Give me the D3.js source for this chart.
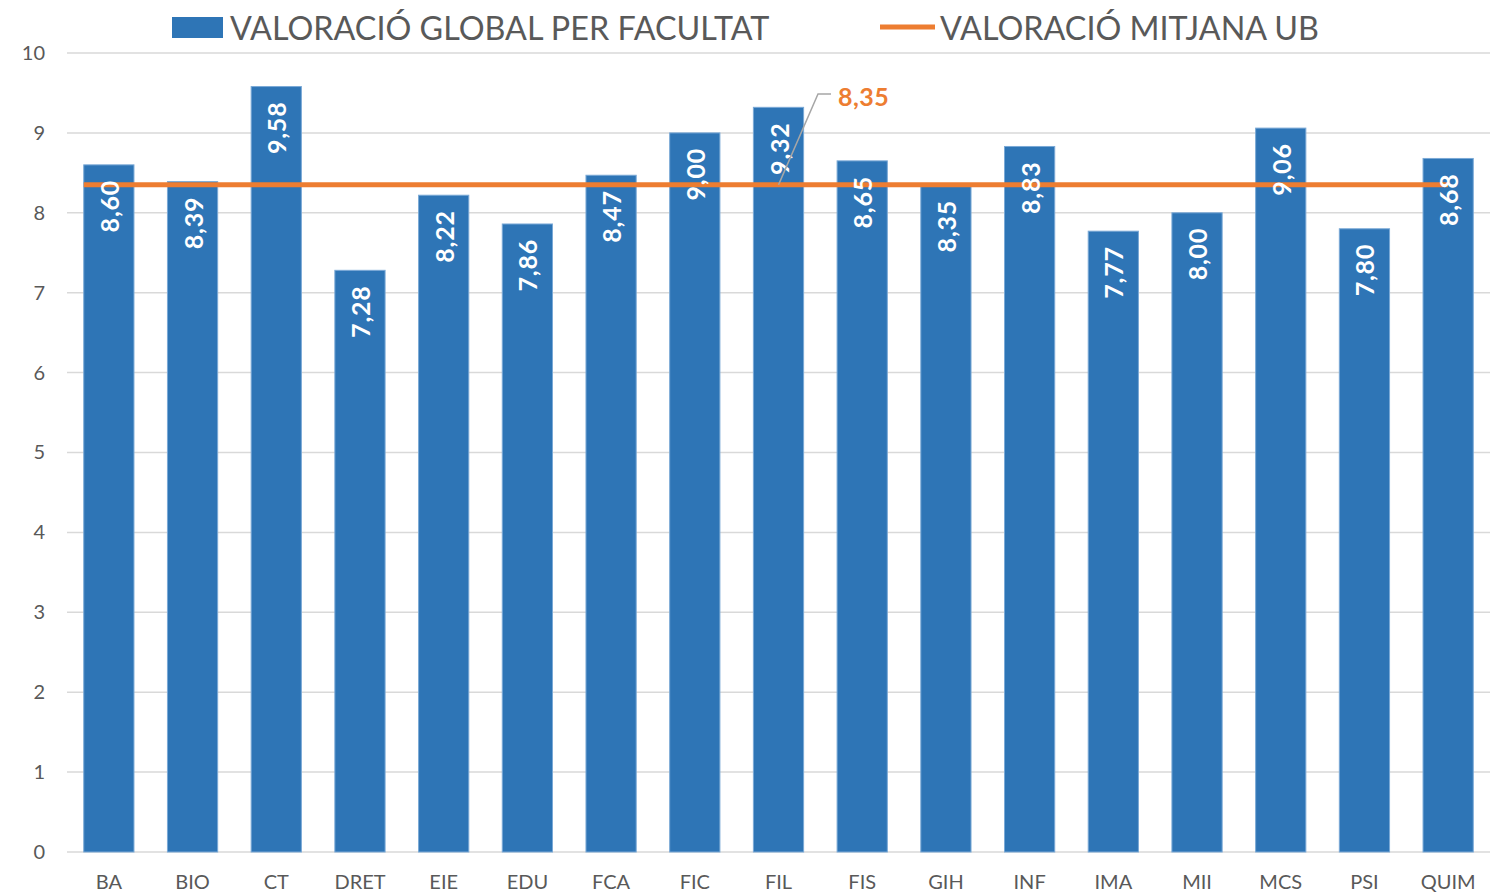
<html>
<head>
<meta charset="utf-8">
<script src="https://d3js.org/d3.v7.min.js"></script>
<style>
  body { margin: 0; background: #fff; }
  text { font-family: Lato, "Open Sans", sans-serif; }
</style>
</head>
<body>
<div id="container"></div>
<script>
var categories = ["BA","BIO","CT","DRET","EIE","EDU","FCA","FIC","FIL","FIS","GIH","INF","IMA","MII","MCS","PSI","QUIM"]
var values = [8.60,8.39,9.58,7.28,8.22,7.86,8.47,9.00,9.32,8.65,8.35,8.83,7.77,8.00,9.06,7.80,8.68]
var mitjana = 8.35
var yTicks = [0,1,2,3,4,5,6,7,8,9,10]
var barLabel = "VALORACIÓ GLOBAL PER FACULTAT"
var lineLabel = "VALORACIÓ MITJANA UB"

var W = 1499, H = 893
var svg = d3.select('#container').append('svg')
  .attr('width', W).attr('height', H)

var x = d3.scaleBand().domain(categories).range([67, 1490])
  .paddingInner(0.4).paddingOuter(0.2)
var y = d3.scaleLinear().domain([0, 10]).range([852, 53])

var fmt = function(v){ return v.toFixed(2).replace('.', ',') }

// grid
svg.append('g').selectAll('line').data(yTicks).enter().append('line')
  .attr('x1', 67).attr('x2', 1490)
  .attr('y1', function(d){ return y(d) }).attr('y2', function(d){ return y(d) })
  .attr('stroke', '#d9d9d9').attr('stroke-width', 1.5)

// y axis labels
var yAxis = d3.axisLeft(y).tickValues(yTicks).tickSize(0).tickPadding(0)
var gy = svg.append('g').attr('transform', 'translate(45,0)').call(yAxis)
gy.select('.domain').remove()
gy.selectAll('text').attr('font-size', 20).attr('fill', '#595959')
  .style('font-family', 'Lato, sans-serif')

// x axis labels
var xAxis = d3.axisBottom(x).tickSize(0).tickPadding(0)
var gx = svg.append('g').attr('transform', 'translate(0,875)').call(xAxis)
gx.select('.domain').remove()
gx.selectAll('text').attr('font-size', 20).attr('fill', '#595959')
  .style('font-family', 'Lato, sans-serif')

// bars
svg.append('g').selectAll('rect').data(values).enter().append('rect')
  .attr('x', function(d, i){ return x(categories[i]) })
  .attr('y', function(d){ return y(d) })
  .attr('width', x.bandwidth())
  .attr('height', function(d){ return y(0) - y(d) })
  .attr('fill', '#2e75b6')
  .attr('stroke', '#7aa9d6').attr('stroke-width', 1)

// mean line
svg.append('line')
  .attr('x1', x(categories[0]))
  .attr('x2', x(categories[categories.length - 1]) + x.bandwidth() / 2)
  .attr('y1', y(mitjana)).attr('y2', y(mitjana))
  .attr('stroke', '#ed7d31').attr('stroke-width', 5)

// bar labels
svg.append('g').selectAll('text').data(values).enter().append('text')
  .attr('transform', function(d, i){
    var cx = x(categories[i]) + x.bandwidth() / 2
    return 'translate(' + cx + ',' + (y(d) + 15) + ') rotate(-90)'
  })
  .attr('text-anchor', 'end')
  .attr('dominant-baseline', 'central')
  .attr('font-size', 25).attr('font-weight', 'bold').attr('fill', '#fff')
  .attr('letter-spacing', 0.8)
  .text(function(d){ return fmt(d) })

// callout for the mean
var fx = x('FIL') + x.bandwidth() / 2
svg.append('polyline')
  .attr('points', [[fx, y(mitjana)], [818, 94], [831, 94]].map(function(p){ return p.join(',') }).join(' '))
  .attr('fill', 'none').attr('stroke', '#a6a6a6').attr('stroke-width', 1.5)
svg.append('text')
  .attr('x', 838).attr('y', 96)
  .attr('dominant-baseline', 'central')
  .attr('font-size', 25).attr('font-weight', 'bold').attr('fill', '#ed7d31')
  .attr('letter-spacing', 0.5)
  .text(fmt(mitjana))

// legend
svg.append('rect').attr('x', 172).attr('y', 17).attr('width', 51).attr('height', 21)
  .attr('fill', '#2e75b6')
svg.append('text').attr('x', 230).attr('y', 27)
  .attr('dominant-baseline', 'central')
  .attr('font-size', 32.3).attr('fill', '#595959')
  .text(barLabel)
svg.append('line').attr('x1', 880).attr('x2', 935).attr('y1', 27).attr('y2', 27)
  .attr('stroke', '#ed7d31').attr('stroke-width', 5)
svg.append('text').attr('x', 940).attr('y', 27)
  .attr('dominant-baseline', 'central')
  .attr('font-size', 32.3).attr('fill', '#595959')
  .text(lineLabel)
</script>
</body>
</html>
